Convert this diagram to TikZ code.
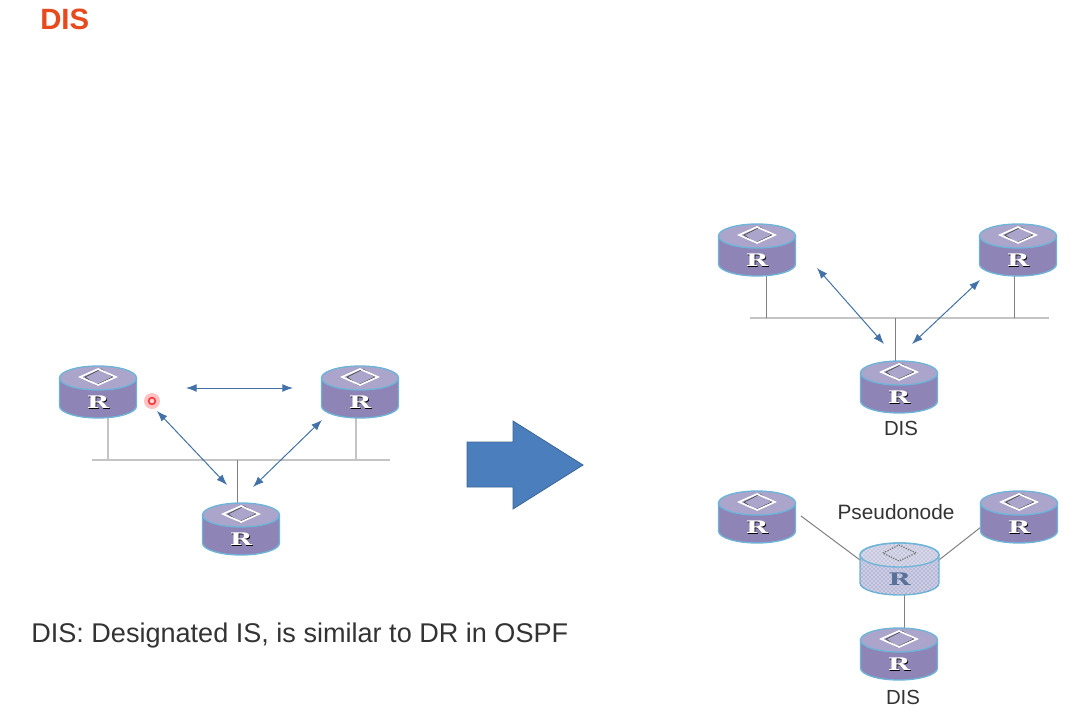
\documentclass[tikz,border=0pt]{standalone}
\usepackage{fontspec}
\setsansfont{Liberation Sans}
\newfontfamily\routerfont{DejaVu Serif}
\usetikzlibrary{arrows.meta,patterns}
\definecolor{bodyc}{HTML}{8F84B6}
\definecolor{topc}{HTML}{ABA5CB}
\definecolor{edgec}{HTML}{6DB4D8}
\definecolor{linec}{HTML}{C4C4C4}
\definecolor{arrowc}{HTML}{4A7EBB}
\definecolor{bigc}{HTML}{4A7EBC}
\definecolor{titlec}{HTML}{E8491D}
\newcommand{\routerR}{\routerfont\bfseries\fontsize{13}{14}\selectfont\scalebox{1.55}[1]{R}}
\tikzset{
  busline/.style={draw=linec,line width=1pt},
  wire/.style={draw=black!50,line width=0.75pt},
  twoway/.style={draw=arrowc!90!black,line width=0.75pt,{Latex[length=8pt,width=6pt]}-{Latex[length=8pt,width=6pt]}},
  lbl/.style={font=\sffamily,text=black!80,inner sep=0.75pt},
  routerbox/.style={minimum width=58.5pt,minimum height=39pt,inner sep=0pt,draw=none},
}
% router drawn at its centre, node name is #1
\newcommand{\router}[3]{
  \draw[edgec,line width=1pt,fill=bodyc] (#2-38.5,#3-14) -- (#2-38.5,#3+14) arc[start angle=180,end angle=0,x radius=38.5,y radius=12] -- (#2+38.5,#3-14) -- cycle;
  \draw[edgec,line width=1pt,fill=topc] (#2,#3-14) ellipse[x radius=38.5,y radius=12];
  \draw[black!70,line width=0.5pt] (#2-13,#3-15) -- (#2+3,#3-23) -- (#2+15,#3-15) -- (#2-2,#3-7) -- cycle;
  \draw[white,line width=1.2pt] (#2-18,#3-15) -- (#2,#3-23) -- (#2+18,#3-15) -- (#2,#3-7) -- cycle;
  \node[text=black] at (#2+0.8,#3+10.8) {\routerR};
  \node[routerbox] (#1) at (#2,#3) {};
  \node[text=white] at (#2,#3+10) {\routerR};
}
\begin{document}
\begin{tikzpicture}[x=0.75pt,y=0.75pt,yscale=-1,xscale=1]
\useasboundingbox (0,0) rectangle (1077,727);

%Title
\node[anchor=west,inner sep=0pt,font=\sffamily\bfseries\fontsize{22}{26}\selectfont,text=titlec] (title) at (40,19) {DIS};

%Left group, bus first
\coordinate (busL) at (92,460);
\coordinate (busR) at (390,460);
\draw[busline] (busL) -- (busR);
\coordinate (tapA) at (108,460);
\coordinate (tapB) at (356,460);
\coordinate (tapC) at (237,460);
\coordinate (fromA) at (108,417);
\coordinate (fromB) at (356,417);
\coordinate (fromC) at (237,504);
\draw[busline] (fromA) -- (tapA);
\draw[busline] (fromB) -- (tapB);
\draw[wire] (tapC) -- (fromC);
\router{routerA}{98}{392}
\router{routerB}{360}{392}
\router{routerC}{241}{529}

%Arrows of the left group
\coordinate (a1) at (186,388);
\coordinate (a2) at (293,388);
\coordinate (a3) at (157,411);
\coordinate (a4) at (227,485);
\coordinate (a5) at (322,420);
\coordinate (a6) at (253,487);
\draw[twoway] (a1) -- (a2);
\draw[twoway] (a3) -- (a4);
\draw[twoway] (a5) -- (a6);

%Pointer dot
\node[circle,fill=red!35,minimum size=12pt,inner sep=0pt,opacity=0.7] (glow) at (152,401) {};
\node[circle,fill=pink!60,draw=red!80,line width=1.2pt,minimum size=5pt,inner sep=0pt] (dot) at (152,401) {};

%Big arrow
\draw[fill=bigc,draw=bigc!80!black,line width=0.6pt] (467,442) -- (513,442) -- (513,421) -- (583,465) -- (513,509) -- (513,487) -- (467,487) -- cycle;

%Top right group
\coordinate (bus2L) at (750,318);
\coordinate (bus2R) at (1049,318);
\draw[busline] (bus2L) -- (bus2R);
\coordinate (tapD) at (766,318);
\coordinate (tapE) at (1014,318);
\coordinate (tapF) at (895,318);
\coordinate (fromD) at (766,275);
\coordinate (fromE) at (1014,275);
\coordinate (fromF) at (895,362);
\draw[wire] (fromD) -- (tapD);
\draw[wire] (fromE) -- (tapE);
\draw[wire] (tapF) -- (fromF);
\router{routerD}{757}{250}
\router{routerE}{1018}{250}
\router{routerF}{899}{387}
\coordinate (b1) at (817,268);
\coordinate (b2) at (884,344);
\coordinate (b3) at (980,280);
\coordinate (b4) at (912,344);
\draw[twoway] (b1) -- (b2);
\draw[twoway] (b3) -- (b4);
\node[lbl,font=\sffamily\fontsize{15.3}{18}\selectfont] (disA) at (901,428) {DIS};

%Bottom right group
\coordinate (c1) at (801,516);
\coordinate (c2) at (860,560);
\coordinate (c3) at (981,527);
\coordinate (c4) at (939,560);
\coordinate (c5) at (904,595);
\coordinate (c6) at (904,629);
\draw[wire] (c1) -- (c2);
\draw[wire] (c3) -- (c4);
\draw[wire] (c5) -- (c6);
\router{routerG}{757}{517}
\router{routerH}{1019}{517}
\router{routerJ}{899}{654}
%Pseudonode
\draw[edgec,line width=1pt,fill=topc!55] (860,555) -- (860,583) arc[start angle=180,end angle=0,x radius=39.5,y radius=12] -- (939,555) arc[start angle=0,end angle=-180,x radius=39.5,y radius=12] -- cycle;
\path[pattern=crosshatch dots,pattern color=arrowc!80!bodyc] (860,555) -- (860,583) arc[start angle=180,end angle=0,x radius=39.5,y radius=12] -- (939,555) arc[start angle=0,end angle=-180,x radius=39.5,y radius=12] -- cycle;
\draw[edgec,line width=1pt,fill=white,fill opacity=0.2] (899.5,555) ellipse[x radius=39.5,y radius=12];
\draw[black!55,line width=0.9pt,densely dotted] (883,553) -- (899,545) -- (916,553) -- (899,561) -- cycle;
\node[text=arrowc!70!black,opacity=0.75] (pseudoR) at (899.5,579) {\routerR};
\node[lbl,font=\sffamily\fontsize{15.6}{18}\selectfont] (pseudo) at (896,512) {Pseudonode};
\node[lbl,font=\sffamily\fontsize{15.3}{18}\selectfont] (disB) at (903,697) {DIS};

%Caption
\node[lbl,anchor=west,inner sep=0pt,font=\sffamily\fontsize{20.3}{24}\selectfont] (caption) at (31,635) {DIS: Designated IS, is similar to DR in OSPF};

\end{tikzpicture}
\end{document}
